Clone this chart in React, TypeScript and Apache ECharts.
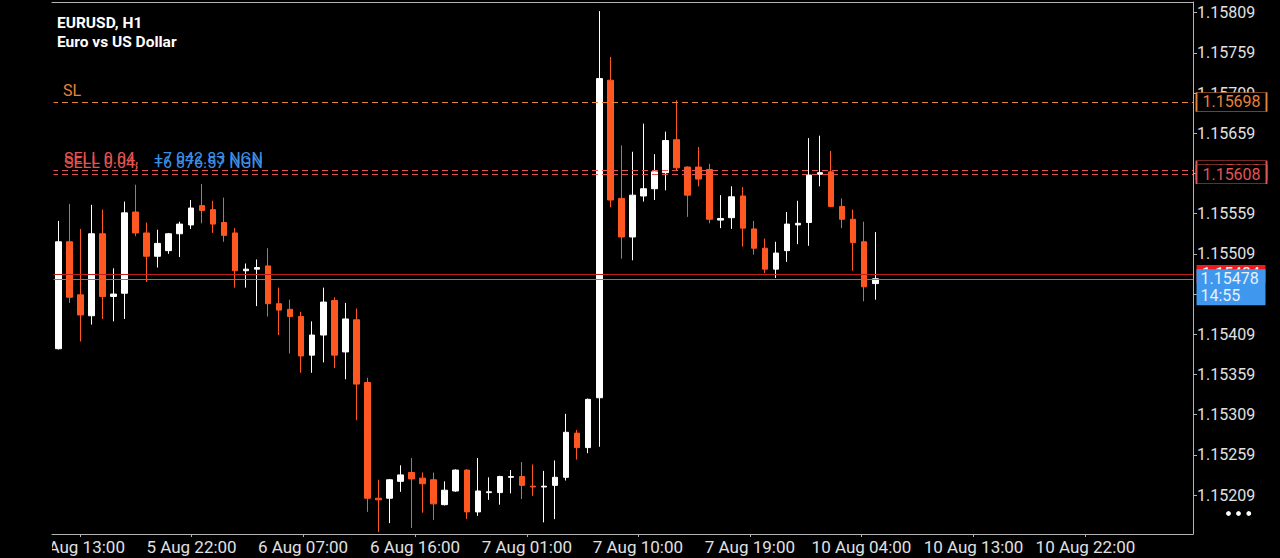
import React, { useEffect, useRef } from "react";
import * as echarts from "echarts";

const chartTitle = "EURUSD, H1";
const chartSubtitle = "Euro vs US Dollar";

// Hourly candles, left to right (index = bar number)
const opens = [
  1.15391, 1.15524, 1.15458, 1.15432, 1.15534, 1.15456, 1.1546, 1.15561, 1.15535, 1.15506,
  1.15513, 1.15534, 1.15545, 1.15569, 1.15564, 1.15548, 1.15535, 1.15488, 1.1549, 1.15494,
  1.15447, 1.1544, 1.15431, 1.15383, 1.15408, 1.15451, 1.15387, 1.15427, 1.15349, 1.15205,
  1.15205, 1.15226, 1.15237, 1.1523, 1.15228, 1.15197, 1.15214, 1.1524, 1.15188, 1.15212,
  1.15212, 1.15231, 1.15232, 1.1522, 1.15219, 1.15221, 1.15231, 1.15286, 1.15268, 1.1533,
  1.15725, 1.15578, 1.1553, 1.15581, 1.1559, 1.1561, 1.15651, 1.15617, 1.15617, 1.15614,
  1.15551, 1.15554, 1.15581, 1.1554, 1.15516, 1.1549, 1.15513, 1.15545, 1.15548, 1.15608,
  1.15611, 1.15568, 1.15552, 1.15524, 1.15472,
];
const closes = [
  1.15524, 1.15455, 1.15433, 1.15534, 1.15456, 1.15459, 1.1556, 1.15535, 1.15506, 1.15522,
  1.15534, 1.15546, 1.15566, 1.15563, 1.15546, 1.15532, 1.15488, 1.1549, 1.15492, 1.15447,
  1.15439, 1.15431, 1.15382, 1.15408, 1.15449, 1.15383, 1.15428, 1.15347, 1.15205, 1.15203,
  1.15228, 1.15234, 1.15229, 1.15223, 1.15198, 1.15215, 1.1524, 1.15188, 1.15214, 1.15213,
  1.15232, 1.15232, 1.15221, 1.15219, 1.1522, 1.15231, 1.15287, 1.15268, 1.15328, 1.15727,
  1.15576, 1.1553, 1.15582, 1.1559, 1.15611, 1.1565, 1.15616, 1.15582, 1.15602, 1.15552,
  1.15553, 1.1558, 1.15541, 1.15516, 1.1549, 1.1551, 1.15546, 1.15547, 1.15607, 1.1561,
  1.15568, 1.15552, 1.15523, 1.15468, 1.15478,
];
const lows = [
  1.1539, 1.15448, 1.154, 1.15421, 1.15428, 1.15425, 1.15428, 1.15531, 1.15474, 1.15492,
  1.15509, 1.15505, 1.1554, 1.15547, 1.15535, 1.15524, 1.15467, 1.15467, 1.15444, 1.15431,
  1.15408, 1.15385, 1.15361, 1.15361, 1.15374, 1.15367, 1.15353, 1.15302, 1.15188, 1.15163,
  1.15174, 1.15213, 1.15168, 1.15187, 1.15178, 1.15196, 1.15213, 1.15179, 1.15183, 1.15203,
  1.15197, 1.15211, 1.15204, 1.15208, 1.15175, 1.15179, 1.15227, 1.15253, 1.15261, 1.15269,
  1.15567, 1.15503, 1.15501, 1.15574, 1.15576, 1.15588, 1.15612, 1.15555, 1.15593, 1.15547,
  1.15541, 1.1554, 1.15518, 1.15508, 1.15485, 1.15479, 1.15499, 1.15521, 1.15519, 1.15593,
  1.15567, 1.15541, 1.15488, 1.1545, 1.15452,
];
const highs = [
  1.1555, 1.15571, 1.1554, 1.1557, 1.15564, 1.15491, 1.15574, 1.15595, 1.15548, 1.15539,
  1.15535, 1.15549, 1.15576, 1.15596, 1.15575, 1.15579, 1.15541, 1.15497, 1.15502, 1.15516,
  1.15467, 1.15452, 1.15437, 1.15425, 1.15467, 1.15455, 1.15448, 1.15441, 1.15355, 1.15228,
  1.15229, 1.15246, 1.15255, 1.15237, 1.15237, 1.15226, 1.15241, 1.15241, 1.15255, 1.15231,
  1.15233, 1.1524, 1.1525, 1.15247, 1.15239, 1.15252, 1.1531, 1.1529, 1.15329, 1.15811,
  1.15754, 1.15644, 1.15636, 1.15671, 1.15633, 1.15661, 1.157, 1.15618, 1.15642, 1.15621,
  1.15582, 1.15593, 1.15592, 1.1555, 1.15528, 1.15524, 1.15561, 1.15575, 1.15653, 1.15656,
  1.15637, 1.15578, 1.15564, 1.15549, 1.15536,
];

// Time axis labels and the bar position each one sits at
const xLabels = [
  "5 Aug 13:00", "5 Aug 22:00", "6 Aug 07:00", "6 Aug 16:00", "7 Aug 01:00",
  "7 Aug 10:00", "7 Aug 19:00", "10 Aug 04:00", "10 Aug 13:00", "10 Aug 22:00",
];
const xLabelAt = [1.95, 12.07, 22.17, 32.31, 42.45, 52.5, 62.65, 72.75, 82.9, 93.04];

// Price scale tick labels
const yTicks = [
  1.15209, 1.15259, 1.15309, 1.15359, 1.15409, 1.15459, 1.15509,
  1.15559, 1.15609, 1.15659, 1.15709, 1.15759, 1.15809,
];

// Trade levels
const slPrice = 1.15698;
const sellPrices = [1.15613, 1.15608];
const sellLabels = ["SELL 0.04,", "SELL 0.04,"];
const sellProfits = ["+7 042.83 NGN", "+6 876.57 NGN"];
const askPrice = 1.15484;
const bidPrice = 1.15478;
const barTimeLeft = "14:55";

const FONT = "Roboto";
const BULL = "#ffffff";
const BEAR = "#ff5722";
const SL_COLOR = "#e8833a";
const SELL_COLOR = "#e35553";
const PNL_COLOR = "#3d8fe6";
const ASK_LINE = "#c0201c";
const ASK_BOX = "#f21b1b";
const BID_LINE = "#4f86c0";
const BID_BOX = "#3f98ee";
const AXIS = "#b4b4b4";
const AXIS_TEXT = "#e0e0e0";

export default function App() {
  const ref = useRef<HTMLDivElement>(null);

  useEffect(() => {
    if (!ref.current) return;
    const chart = echarts.init(ref.current, undefined, { renderer: "svg" });

    const candles = opens.map((o, i) => [i, o, closes[i], lows[i], highs[i]]);
    const xMin = -0.571;
    const xMax = 102.78;
    const yMin = 1.151605;
    const yMax = 1.158223;

    const box = (
      price: number,
      text: string,
      color: string,
      bg: string,
      border: string | null,
      w: number,
      h: number,
      dy: number,
      extraLabel: any = {}
    ) => ({
      coord: [xMax, price],
      symbol: "rect",
      symbolSize: [w, h],
      symbolOffset: [w / 2 + 3.5, dy],
      itemStyle: {
        color: bg,
        borderColor: border || bg,
        borderWidth: border ? 1 : 0,
      },
      label: {
        show: true,
        position: "inside",
        formatter: text,
        color,
        fontSize: 16,
        fontFamily: FONT,
        ...extraLabel,
      },
    });

    const labelFor = (v: number) => {
      const i = xLabelAt.findIndex((p) => Math.abs(p - v) < 1e-6);
      return i >= 0 ? xLabels[i] : "";
    };

    chart.setOption({
      animation: false,
      backgroundColor: "#000000",
      title: {
        left: 57,
        top: 15,
        padding: 0,
        itemGap: 3,
        text: chartTitle,
        subtext: chartSubtitle,
        textStyle: { color: "#ffffff", fontSize: 15.5, fontWeight: "bold", fontFamily: FONT },
        subtextStyle: { color: "#ffffff", fontSize: 15.5, fontWeight: "bold", fontFamily: FONT },
      },
      grid: { left: 52, right: 87, top: 2, bottom: 24 },
      xAxis: [
        {
          type: "value",
          min: xMin,
          max: xMax,
          position: "bottom",
          axisLine: { show: true, onZero: false, lineStyle: { color: AXIS, width: 1 } },
          axisTick: { show: true, customValues: xLabelAt, length: 3, lineStyle: { color: AXIS } },
          axisLabel: {
            show: true,
            customValues: xLabelAt,
            formatter: labelFor,
            color: AXIS_TEXT,
            fontSize: 17,
            fontFamily: FONT,
            margin: 4,
          },
          splitLine: { show: false },
        },
        {
          type: "value",
          min: xMin,
          max: xMax,
          position: "top",
          axisLine: { show: true, onZero: false, lineStyle: { color: AXIS, width: 1 } },
          axisTick: { show: false },
          axisLabel: { show: false },
          splitLine: { show: false },
        },
      ],
      yAxis: [
        {
          type: "value",
          position: "right",
          min: yMin,
          max: yMax,
          axisLine: { show: true, onZero: false, lineStyle: { color: AXIS, width: 1 } },
          axisTick: { show: true, customValues: yTicks, length: 4, lineStyle: { color: AXIS } },
          axisLabel: {
            show: true,
            customValues: yTicks,
            formatter: (v: number) => v.toFixed(5),
            color: AXIS_TEXT,
            fontSize: 16,
            fontFamily: FONT,
            margin: 4,
          },
          splitLine: { show: false },
        },
      ],
      series: [
        {
          // price boxes that sit underneath the others
          type: "line",
          xAxisIndex: 0,
          yAxisIndex: 0,
          data: [],
          silent: true,
          markPoint: {
            silent: true,
            animation: false,
            z: 4,
            data: [
              box(sellPrices[0], sellPrices[0].toFixed(5), SELL_COLOR, "#000000", SELL_COLOR, 70, 19, 0),
              box(askPrice, askPrice.toFixed(5), "#ffffff", ASK_BOX, null, 69, 18, 0),
            ],
          },
        },
        {
          type: "candlestick",
          xAxisIndex: 0,
          yAxisIndex: 0,
          barWidth: 6,
          data: candles,
          itemStyle: {
            color: BULL,
            color0: BEAR,
            borderColor: BULL,
            borderColor0: BEAR,
            borderWidth: 1,
          },
          markLine: {
            silent: true,
            animation: false,
            precision: 5,
            symbol: ["none", "none"],
            data: [
              {
                yAxis: slPrice,
                lineStyle: { color: SL_COLOR, type: [6, 4], width: 1 },
                label: {
                  show: true,
                  position: "insideStartTop",
                  distance: [11, 3],
                  formatter: "SL",
                  color: SL_COLOR,
                  fontSize: 16,
                  fontFamily: FONT,
                },
              },
              ...sellPrices.map((p, i) => ({
                yAxis: p,
                lineStyle: { color: SELL_COLOR, type: [6, 4], width: 1 },
                label: {
                  show: true,
                  position: "insideStartTop",
                  distance: [12, 3.5],
                  formatter: `{a|${sellLabels[i]}}{b|${sellProfits[i]}}`,
                  rich: {
                    a: { color: SELL_COLOR, fontSize: 16, fontFamily: FONT, width: 90 },
                    b: { color: PNL_COLOR, fontSize: 16, fontFamily: FONT },
                  },
                },
              })),
              {
                yAxis: askPrice,
                lineStyle: { color: ASK_LINE, type: "solid", width: 1 },
                label: { show: false },
              },
              {
                yAxis: bidPrice,
                lineStyle: { color: BID_LINE, type: "solid", width: 1 },
                label: { show: false },
              },
            ],
          },
          markPoint: {
            silent: true,
            animation: false,
            z: 6,
            data: [
              box(slPrice, slPrice.toFixed(5), SL_COLOR, "#000000", SL_COLOR, 70, 19, 0),
              box(sellPrices[1], sellPrices[1].toFixed(5), SELL_COLOR, "#000000", SELL_COLOR, 70, 19, 0),
              box(bidPrice, `${bidPrice.toFixed(5)}\n${barTimeLeft}`, "#e8f0fa", BID_BOX, null, 69, 36, 8.5, {
                position: [4, 1],
                align: "left",
                verticalAlign: "top",
                lineHeight: 17,
              }),
            ],
          },
        },
      ],
      graphic: [
        {
          // hides the part of the first time label that falls left of the plot
          type: "rect",
          z: 100,
          zlevel: 5,
          silent: true,
          shape: { x: 0, y: 535, width: 52, height: 23 },
          style: { fill: "#000000" },
        },
        {
          // the plot has no left border in the reference
          type: "rect",
          z: 100,
          zlevel: 5,
          silent: true,
          shape: { x: 50.5, y: 3, width: 3, height: 530.5 },
          style: { fill: "#000000" },
        },
        { type: "circle", z: 100, silent: true, shape: { cx: 1228.5, cy: 513.5, r: 2.4 }, style: { fill: "#ffffff" } },
        { type: "circle", z: 100, silent: true, shape: { cx: 1238.5, cy: 513.5, r: 2.4 }, style: { fill: "#ffffff" } },
        { type: "circle", z: 100, silent: true, shape: { cx: 1248.8, cy: 513.5, r: 2.4 }, style: { fill: "#ffffff" } },
      ],
    });

    return () => chart.dispose();
  }, []);

  return (
    <div
      ref={ref}
      style={{ position: "fixed", left: 0, top: 0, width: 1280, height: 558, background: "#000" }}
    />
  );
}
